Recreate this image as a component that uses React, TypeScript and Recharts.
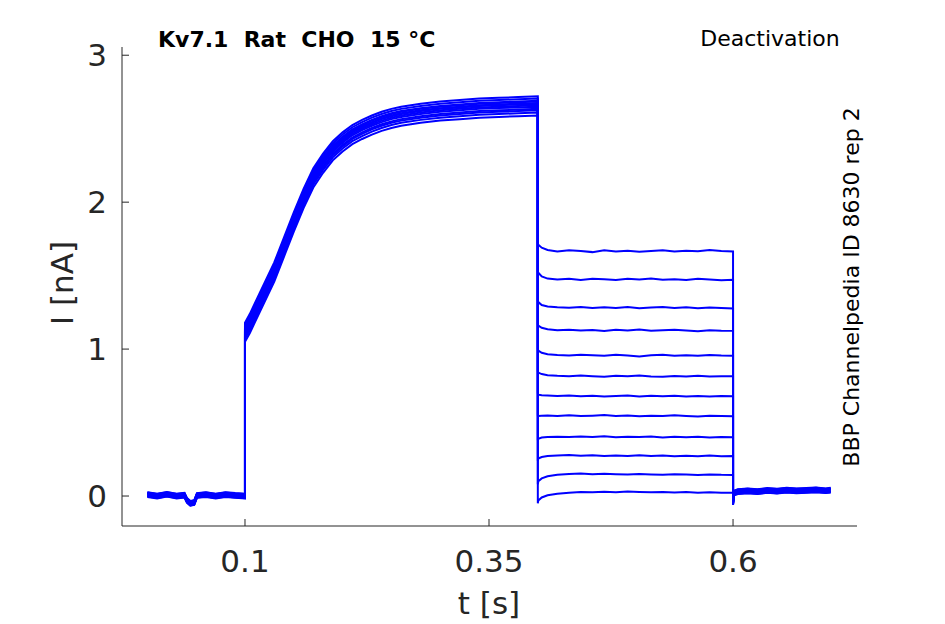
import React from 'react';
import { LineChart, Line, XAxis, YAxis } from 'recharts';

// time points (s) and current (nA)
const BASE_T = [0, 0.01, 0.02, 0.03, 0.038, 0.0406, 0.044, 0.048, 0.0508, 0.06, 0.07, 0.08, 0.09, 0.1];
const BASE_I = [0.01, 0.0, 0.012, 0.0, 0.006, -0.03, -0.05, -0.045, 0.004, 0.01, 0.0, 0.01, 0.004, 0.0];

const ACT_T = [0.1, 0.105, 0.11, 0.115, 0.12, 0.13, 0.14, 0.15, 0.16, 0.17, 0.18, 0.19, 0.2, 0.21, 0.22, 0.23, 0.24, 0.25, 0.26, 0.28, 0.3, 0.32, 0.34, 0.36, 0.38, 0.4];
const ACT_I = [1.12, 1.18, 1.25, 1.32, 1.39, 1.53, 1.7, 1.87, 2.03, 2.17, 2.27, 2.355, 2.415, 2.465, 2.5, 2.53, 2.555, 2.575, 2.59, 2.61, 2.625, 2.635, 2.645, 2.65, 2.655, 2.66];

const DEACT_T = [0.4, 0.4005, 0.404, 0.41, 0.42, 0.432, 0.444, 0.456, 0.468, 0.48, 0.492, 0.504, 0.516, 0.528, 0.54, 0.552, 0.564, 0.576, 0.588, 0.6];
const DEACT_I = [
  [1.72, 1.71, 1.69, 1.675, 1.665, 1.672, 1.668, 1.66, 1.672, 1.665, 1.67, 1.662, 1.668, 1.673, 1.664, 1.67, 1.666, 1.675, 1.668, 1.665],
  [1.53, 1.52, 1.495, 1.48, 1.474, 1.478, 1.471, 1.479, 1.475, 1.47, 1.478, 1.474, 1.48, 1.472, 1.476, 1.47, 1.478, 1.473, 1.468, 1.472],
  [1.33, 1.32, 1.3, 1.29, 1.285, 1.281, 1.287, 1.279, 1.284, 1.28, 1.286, 1.278, 1.283, 1.287, 1.28, 1.284, 1.278, 1.283, 1.279, 1.276],
  [1.17, 1.16, 1.145, 1.135, 1.128, 1.132, 1.126, 1.13, 1.124, 1.131, 1.127, 1.133, 1.125, 1.128, 1.131, 1.126, 1.122, 1.128, 1.125, 1.124],
  [1.0, 0.99, 0.975, 0.965, 0.96, 0.956, 0.962, 0.958, 0.955, 0.961, 0.957, 0.95, 0.958, 0.962, 0.955, 0.958, 0.954, 0.96, 0.956, 0.955],
  [0.85, 0.84, 0.83, 0.822, 0.818, 0.815, 0.82, 0.816, 0.812, 0.819, 0.815, 0.82, 0.814, 0.811, 0.817, 0.814, 0.818, 0.813, 0.816, 0.815],
  [0.7, 0.69, 0.686, 0.684, 0.68, 0.684, 0.679, 0.683, 0.678, 0.681, 0.684, 0.677, 0.682, 0.679, 0.683, 0.678, 0.681, 0.677, 0.68, 0.679],
  [0.55, 0.545, 0.547, 0.548, 0.545, 0.549, 0.544, 0.547, 0.551, 0.545, 0.548, 0.543, 0.547, 0.544, 0.549, 0.545, 0.542, 0.546, 0.544, 0.543],
  [0.38, 0.39, 0.398, 0.402, 0.404, 0.401, 0.405, 0.402, 0.406, 0.4, 0.404, 0.401, 0.405, 0.399, 0.403, 0.4, 0.404, 0.398, 0.401, 0.4],
  [0.24, 0.255, 0.265, 0.272, 0.276, 0.279, 0.274, 0.278, 0.272, 0.276, 0.273, 0.277, 0.272, 0.275, 0.27, 0.274, 0.271, 0.275, 0.27, 0.272],
  [0.08, 0.1, 0.12, 0.135, 0.145, 0.15, 0.153, 0.148, 0.152, 0.149, 0.146, 0.15, 0.147, 0.145, 0.149, 0.146, 0.143, 0.147, 0.144, 0.143],
  [-0.05, -0.03, -0.01, 0.005, 0.015, 0.022, 0.027, 0.025, 0.029, 0.026, 0.03, 0.027, 0.025, 0.028, 0.024, 0.027, 0.023, 0.026, 0.022, 0.024],
];

const TAIL_T = [0.6, 0.601, 0.605, 0.615, 0.625, 0.635, 0.645, 0.655, 0.665, 0.675, 0.685, 0.695, 0.7];
const TAIL_I = [-0.045, 0.02, 0.03, 0.035, 0.03, 0.038, 0.033, 0.04, 0.035, 0.038, 0.042, 0.036, 0.04];

// per-sweep spread of the overlapping traces
const ACT_OFFSET = [0.06, 0.03, 0.045, 0.01, 0.025, -0.01, 0.0, -0.025, -0.035, 0.015, -0.05, -0.07];
const BASE_OFFSET = [0.014, -0.01, 0.006, -0.014, 0.01, 0.0, -0.005, 0.016, -0.01, 0.004, -0.016, 0.008];

const X_TICKS = [0.1, 0.35, 0.6];
const Y_TICKS = [0, 1, 2, 3];

const FONT = '"DejaVu Sans", sans-serif';
const AXIS = '#262626';

function buildSweep(k: number) {
  const pts: { t: number; i: number }[] = [];
  BASE_T.forEach((t, j) => pts.push({ t, i: BASE_I[j] + BASE_OFFSET[k] }));
  ACT_T.forEach((t, j) => pts.push({ t, i: ACT_I[j] + ACT_OFFSET[k] }));
  DEACT_T.forEach((t, j) => pts.push({ t, i: DEACT_I[k][j] }));
  TAIL_T.forEach((t, j) => pts.push({ t, i: TAIL_I[j] + BASE_OFFSET[k] }));
  return pts;
}

const sweeps = DEACT_I.map((_, k) => buildSweep(k));

const XTick = (props: any) => {
  const { x, y, payload } = props;
  return (
    <g>
      <line x1={x} y1={y} x2={x} y2={y - 7} stroke={AXIS} />
      <text x={x} y={y + 46} textAnchor="middle" fontSize={31} fill={AXIS} fontFamily={FONT}>
        {payload.value}
      </text>
    </g>
  );
};

const YTick = (props: any) => {
  const { x, y, payload } = props;
  return (
    <g>
      <line x1={x} y1={y} x2={x + 7} y2={y} stroke={AXIS} />
      <text x={x - 15} y={y + 11} textAnchor="end" fontSize={31} fill={AXIS} fontFamily={FONT}>
        {payload.value}
      </text>
    </g>
  );
};

export default function App() {
  return (
    <div style={{ position: 'absolute', left: 0, top: 0, width: 945, height: 624, background: '#fff' }}>
      <LineChart width={945} height={624} margin={{ top: 47, right: 88, bottom: 0, left: 22 }}>
        <XAxis
          type="number"
          dataKey="t"
          domain={[-0.026, 0.727]}
          ticks={X_TICKS}
          allowDataOverflow
          height={98}
          tickSize={0}
          tickMargin={0}
          tickLine={false}
          axisLine={{ stroke: AXIS }}
          tick={<XTick />}
        />
        <YAxis
          type="number"
          domain={[-0.204, 3.056]}
          ticks={Y_TICKS}
          allowDataOverflow
          width={100}
          tickSize={0}
          tickMargin={0}
          tickLine={false}
          axisLine={{ stroke: AXIS }}
          tick={<YTick />}
        />
        {sweeps.map((data, k) => (
          <Line
            key={k}
            data={data}
            dataKey="i"
            type="linear"
            stroke="#0000ff"
            strokeWidth={2}
            dot={false}
            isAnimationActive={false}
          />
        ))}
      </LineChart>
      <svg width={945} height={624} style={{ position: 'absolute', left: 0, top: 0, pointerEvents: 'none' }}>
        <text x={158} y={47} fontSize={22} fontWeight="bold" fontFamily={FONT} fill="#000" style={{ whiteSpace: 'pre' }}>
          {'Kv7.1  Rat  CHO  15 °C'}
        </text>
        <text x={770} y={46} fontSize={22} textAnchor="middle" fontFamily={FONT} fill="#000">
          Deactivation
        </text>
        <text transform="translate(859,287) rotate(-90)" fontSize={22} textAnchor="middle" fontFamily={FONT} fill="#000">
          BBP Channelpedia ID 8630 rep 2
        </text>
        <text x={489} y={614} fontSize={31} textAnchor="middle" fontFamily={FONT} fill={AXIS}>
          t [s]
        </text>
        <text transform="translate(73,283) rotate(-90)" fontSize={31} textAnchor="middle" fontFamily={FONT} fill={AXIS}>
          I [nA]
        </text>
      </svg>
    </div>
  );
}
